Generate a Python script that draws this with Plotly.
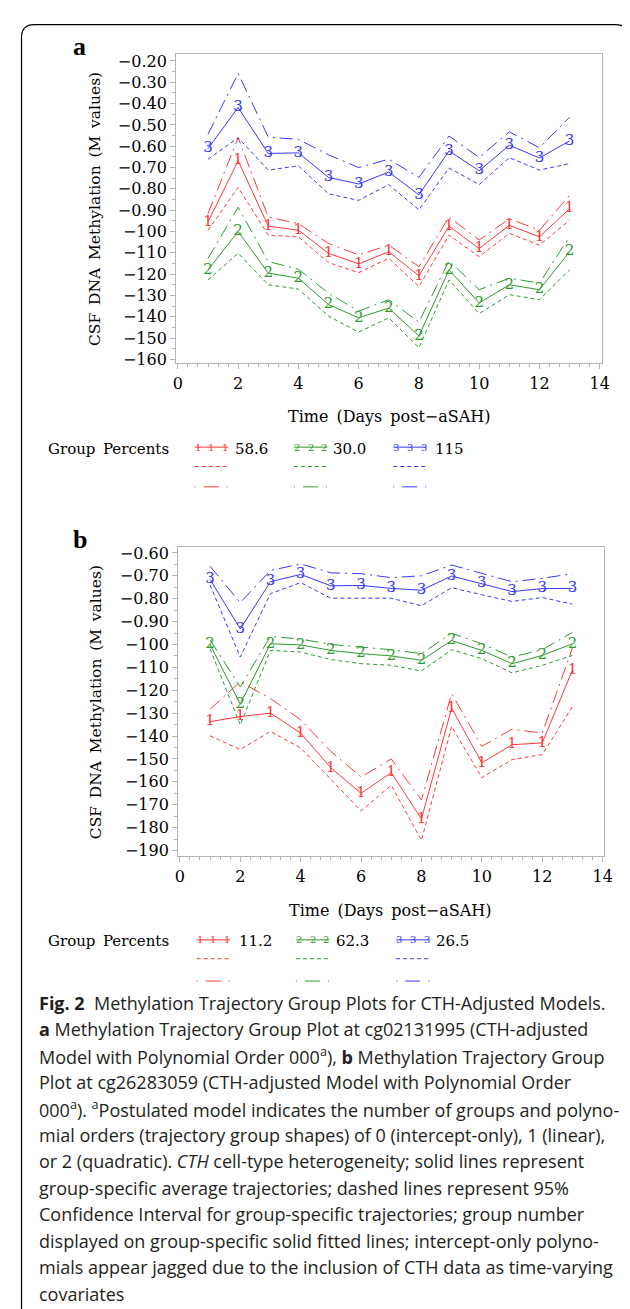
import plotly.graph_objects as go

W, H = 630, 1309

days = list(range(1, 14))
x_ticks = [0, 2, 4, 6, 8, 10, 12, 14]

# ---------------- Panel a (cg02131995) ----------------
a_g1_mean = [-0.955, -0.668, -0.975, -0.994, -1.102, -1.152, -1.095, -1.208, -0.975, -1.080, -0.971, -1.025, -0.893]
a_g1_lower = [-0.994, -0.793, -1.017, -1.025, -1.146, -1.193, -1.126, -1.258, -1.017, -1.118, -1.009, -1.064, -0.947]
a_g1_upper = [-0.916, -0.560, -0.932, -0.963, -1.056, -1.110, -1.064, -1.165, -0.932, -1.040, -0.940, -0.994, -0.830]

a_g2_mean = [-1.180, -1.000, -1.195, -1.219, -1.343, -1.405, -1.359, -1.490, -1.180, -1.335, -1.250, -1.273, -1.095]
a_g2_lower = [-1.227, -1.102, -1.250, -1.270, -1.397, -1.472, -1.405, -1.545, -1.227, -1.385, -1.296, -1.320, -1.180]
a_g2_upper = [-1.126, -0.886, -1.141, -1.177, -1.289, -1.374, -1.320, -1.425, -1.137, -1.273, -1.219, -1.242, -1.025]

a_g3_mean = [-0.611, -0.418, -0.634, -0.631, -0.746, -0.777, -0.721, -0.828, -0.622, -0.715, -0.595, -0.655, -0.575]
a_g3_lower = [-0.661, -0.560, -0.712, -0.692, -0.823, -0.854, -0.780, -0.898, -0.702, -0.780, -0.653, -0.712, -0.681]
a_g3_upper = [-0.544, -0.258, -0.557, -0.568, -0.640, -0.700, -0.661, -0.746, -0.552, -0.653, -0.532, -0.607, -0.464]

a_percents = ["58.6", "30.0", "115"]
a_y_ticks = [-1.6, -1.5, -1.4, -1.3, -1.2, -1.1, -1.0, -0.9, -0.8, -0.7, -0.6, -0.5, -0.4, -0.3, -0.2]
a_y_ticktext = ["−160", "−150", "−140", "−130", "−120", "−110", "−100",
                "−0.90", "−0.80", "−0.70", "−0.60", "−0.50", "−0.40", "−0.30", "−0.20"]

# ---------------- Panel b (cg26283059) ----------------
b_g1_mean = [-1.337, -1.315, -1.300, -1.387, -1.539, -1.650, -1.560, -1.762, -1.279, -1.517, -1.438, -1.430, -1.112]
b_g1_lower = [-1.399, -1.459, -1.380, -1.452, -1.589, -1.727, -1.615, -1.856, -1.358, -1.582, -1.503, -1.481, -1.272]
b_g1_upper = [-1.283, -1.163, -1.236, -1.329, -1.467, -1.579, -1.500, -1.679, -1.215, -1.445, -1.370, -1.387, -1.015]

b_g2_mean = [-1.000, -1.260, -0.997, -1.002, -1.026, -1.040, -1.050, -1.069, -0.983, -1.026, -1.084, -1.048, -0.997]
b_g2_lower = [-1.019, -1.351, -1.026, -1.033, -1.066, -1.084, -1.091, -1.116, -1.023, -1.062, -1.124, -1.091, -1.048]
b_g2_upper = [-0.980, -1.185, -0.965, -0.976, -1.000, -1.012, -1.023, -1.040, -0.951, -0.997, -1.055, -1.023, -0.947]

b_g3_mean = [-0.716, -0.932, -0.726, -0.694, -0.744, -0.742, -0.755, -0.763, -0.701, -0.734, -0.769, -0.756, -0.755]
b_g3_lower = [-0.740, -1.055, -0.778, -0.730, -0.798, -0.798, -0.798, -0.831, -0.752, -0.783, -0.812, -0.795, -0.824]
b_g3_upper = [-0.658, -0.817, -0.677, -0.648, -0.687, -0.691, -0.708, -0.700, -0.653, -0.691, -0.726, -0.711, -0.691]

b_percents = ["11.2", "62.3", "26.5"]
b_y_ticks = [-1.9, -1.8, -1.7, -1.6, -1.5, -1.4, -1.3, -1.2, -1.1, -1.0, -0.9, -0.8, -0.7, -0.6]
b_y_ticktext = ["−190", "−180", "−170", "−160", "−150", "−140", "−130", "−120", "−110", "−100",
                "−0.90", "−0.80", "−0.70", "−0.60"]

group_labels = ["1", "2", "3"]
colors = ["#FF3838", "#2E9A2E", "#3838FF"]

caption_lines = [
    "<b>Fig. 2</b>  Methylation Trajectory Group Plots for CTH-Adjusted Models.",
    "<b>a</b> Methylation Trajectory Group Plot at cg02131995 (CTH-adjusted",
    "Model with Polynomial Order 000<sup>a</sup>), <b>b</b> Methylation Trajectory Group",
    "Plot at cg26283059 (CTH-adjusted Model with Polynomial Order",
    "000<sup>a</sup>). <sup>a</sup>Postulated model indicates the number of groups and polyno-",
    "mial orders (trajectory group shapes) of 0 (intercept-only), 1 (linear),",
    "or 2 (quadratic). <i>CTH</i> cell-type heterogeneity; solid lines represent",
    "group-specific average trajectories; dashed lines represent 95%",
    "Confidence Interval for group-specific trajectories; group number",
    "displayed on group-specific solid fitted lines; intercept-only polyno-",
    "mials appear jagged due to the inclusion of CTH data as time-varying",
    "covariates",
]

SERIF = "DejaVu Serif"
SANS = "Open Sans"
DASH_LOW = "4px,3px"
DASH_UP = "13px,5px,2px,5px"


def px(x):
    return x / W


def py(y):
    return 1 - y / H


fig = go.Figure()

panels = [
    ("x", "y", [(a_g1_mean, a_g1_lower, a_g1_upper),
                (a_g2_mean, a_g2_lower, a_g2_upper),
                (a_g3_mean, a_g3_lower, a_g3_upper)]),
    ("x2", "y2", [(b_g1_mean, b_g1_lower, b_g1_upper),
                  (b_g2_mean, b_g2_lower, b_g2_upper),
                  (b_g3_mean, b_g3_lower, b_g3_upper)]),
]

for xa, ya, groups in panels:
    for gi, (mean, low, up) in enumerate(groups):
        c = colors[gi]
        fig.add_trace(go.Scatter(x=days, y=low, mode="lines", xaxis=xa, yaxis=ya,
                                 line=dict(color=c, width=1, dash=DASH_LOW), hoverinfo="skip"))
        fig.add_trace(go.Scatter(x=days, y=up, mode="lines", xaxis=xa, yaxis=ya,
                                 line=dict(color=c, width=1, dash=DASH_UP), hoverinfo="skip"))
        fig.add_trace(go.Scatter(x=days, y=mean, mode="lines+text", xaxis=xa, yaxis=ya,
                                 text=[group_labels[gi]] * len(days), textposition="middle center",
                                 textfont=dict(family=SERIF, size=15, color=c),
                                 line=dict(color=c, width=1)))

axis_common = dict(
    showline=True, mirror=True, linecolor="#b4b4b4", linewidth=1,
    ticks="outside", ticklen=5, tickcolor="#b4b4b4", tickwidth=1,
    tickfont=dict(family=SERIF, size=16, color="black"),
    showgrid=False, zeroline=False,
)

fig.update_layout(
    width=W, height=H,
    margin=dict(l=0, r=0, t=0, b=0),
    paper_bgcolor="white", plot_bgcolor="white",
    showlegend=False,
    xaxis=dict(domain=[px(168), px(601)], anchor="y", range=[-0.06, 14.06],
               tickvals=x_ticks, ticklabelstandoff=1,
               minor=dict(ticks="outside", ticklen=3, tickcolor="#b4b4b4", dtick=1 / 3, tick0=0),
               **axis_common),
    yaxis=dict(domain=[py(353.3), py(42.7)], anchor="x", range=[-1.615, -0.169],
               tickvals=a_y_ticks, ticktext=a_y_ticktext,
               minor=dict(ticks="outside", ticklen=3, tickcolor="#b4b4b4", dtick=0.05, tick0=0),
               **axis_common),
    xaxis2=dict(domain=[px(170), px(604)], anchor="y2", range=[-0.06, 14.06],
                tickvals=x_ticks, ticklabelstandoff=1,
                minor=dict(ticks="outside", ticklen=3, tickcolor="#b4b4b4", dtick=1 / 3, tick0=0),
                **axis_common),
    yaxis2=dict(domain=[py(850.7), py(539.3)], anchor="x2", range=[-1.925, -0.575],
                tickvals=b_y_ticks, ticktext=b_y_ticktext,
                minor=dict(ticks="outside", ticklen=3, tickcolor="#b4b4b4", dtick=0.05, tick0=0),
                **axis_common),
)

annotations = []
shapes = []

# outer rounded border
r = 13
L, T, R, B = 10.7, 12.7, 628.3, 1320
path = (f"M {px(L)},{py(B)} L {px(L)},{py(T + r)} Q {px(L)},{py(T)} {px(L + r)},{py(T)} "
        f"L {px(R - r)},{py(T)} Q {px(R)},{py(T)} {px(R)},{py(T + r)} L {px(R)},{py(B)}")
shapes.append(dict(type="path", xref="paper", yref="paper", path=path,
                   line=dict(color="black", width=1.2)))

ES = "\u2002"


def panel_texts(letter, letter_y, ycenter, xtitle_x, xtitle_y, leg_y, leg_dash_y, leg_dashdot_y,
                line_x0s, pct_xs, percents):
    annotations.append(dict(x=px(70), y=py(letter_y), xref="paper", yref="paper", text=f"<b>{letter}</b>",
                            showarrow=False, xanchor="center", yanchor="middle",
                            font=dict(family="Liberation Serif", size=26, color="black")))
    annotations.append(dict(x=px(86), y=py(ycenter), xref="paper", yref="paper",
                            text=ES.join(["CSF", "DNA", "Methylation", "(M", "values)"]),
                            textangle=-90, showarrow=False, xanchor="center", yanchor="middle",
                            font=dict(family=SERIF, size=15.5, color="black")))
    annotations.append(dict(x=px(xtitle_x), y=py(xtitle_y), xref="paper", yref="paper",
                            text=ES.join(["Time", "(Days", "post−aSAH)"]),
                            showarrow=False, xanchor="center", yanchor="middle",
                            font=dict(family=SERIF, size=16, color="black")))
    annotations.append(dict(x=px(36), y=py(leg_y), xref="paper", yref="paper",
                            text="Group" + ES + "Percents", showarrow=False,
                            xanchor="left", yanchor="middle",
                            font=dict(family=SERIF, size=15, color="black")))
    for gi in range(3):
        c = colors[gi]
        x0 = line_x0s[gi]
        x1 = x0 + 34
        shapes.append(dict(type="line", xref="paper", yref="paper", x0=px(x0), x1=px(x1),
                           y0=py(leg_y - 1.5), y1=py(leg_y - 1.5), line=dict(color=c, width=1)))
        shapes.append(dict(type="line", xref="paper", yref="paper", x0=px(x0), x1=px(x1),
                           y0=py(leg_dash_y), y1=py(leg_dash_y), line=dict(color=c, width=1, dash=DASH_LOW)))
        shapes.append(dict(type="line", xref="paper", yref="paper", x0=px(x0), x1=px(x1),
                           y0=py(leg_dashdot_y), y1=py(leg_dashdot_y),
                           line=dict(color=c, width=1, dash="1px,8px,15px,8px")))
        for k in range(3):
            annotations.append(dict(x=px(x0 + 3 + k * 14), y=py(leg_y - 1.5), xref="paper", yref="paper",
                                    text=group_labels[gi], showarrow=False,
                                    xanchor="center", yanchor="middle",
                                    font=dict(family=SERIF, size=10, color=c)))
        annotations.append(dict(x=px(pct_xs[gi]), y=py(leg_y), xref="paper", yref="paper",
                                text=percents[gi], showarrow=False, xanchor="left", yanchor="middle",
                                font=dict(family=SERIF, size=15, color="black")))


panel_texts("a", 35, 198, 385, 408, 440, 458, 478.5, [187, 288, 389], [226, 326, 429], a_percents)
panel_texts("b", 531.5, 695, 386, 905, 936.5, 954, 976.5, [189, 290, 392], [230, 329, 431], b_percents)

for i, line in enumerate(caption_lines):
    annotations.append(dict(x=px(26), y=py(998.3 + 26.67 * i), xref="paper", yref="paper",
                            text=line, showarrow=False, xanchor="left", yanchor="middle",
                            font=dict(family=SANS, size=18, color="#231f20")))

fig.update_layout(annotations=annotations, shapes=shapes)

fig.write_html("out.html")
